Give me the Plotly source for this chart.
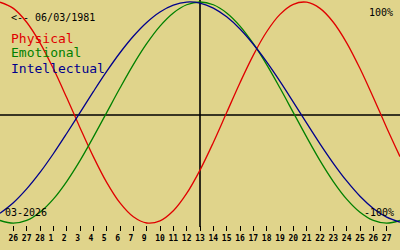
import plotly.graph_objects as go

# ---- data ----
day_offsets = list(range(-15, 16))
physical = [0.998, 0.942, 0.817, 0.631, 0.398, 0.136, -0.136, -0.398, -0.631, -0.817,
            -0.942, -0.998, -0.979, -0.888, -0.731, -0.520, -0.270, 0.000, 0.270, 0.520,
            0.731, 0.888, 0.979, 0.998, 0.942, 0.817, 0.631, 0.398, 0.136, -0.136, -0.398]
emotional = [-0.975, -1.000, -0.975, -0.901, -0.782, -0.623, -0.434, -0.222, 0.000, 0.222,
             0.434, 0.623, 0.782, 0.901, 0.975, 1.000, 0.975, 0.901, 0.782, 0.623,
             0.434, 0.222, 0.000, -0.222, -0.434, -0.623, -0.782, -0.901, -0.975, -1.000, -0.975]
intellectual = [-0.910, -0.815, -0.690, -0.541, -0.372, -0.189, 0.000, 0.189, 0.372, 0.541,
                0.690, 0.815, 0.910, 0.972, 0.999, 0.990, 0.945, 0.866, 0.756, 0.618,
                0.458, 0.282, 0.095, -0.095, -0.282, -0.458, -0.618, -0.756, -0.866, -0.945, -0.990]
tick_days = list(range(-14, 15))
tick_labels = ["26", "27", "28", "1", "2", "3", "4", "5", "6", "7", "9", "10", "11", "12", "13",
               "14", "15", "16", "17", "18", "19", "20", "21", "22", "23", "24", "25", "26", "27"]
series_names = ["Physical", "Emotional", "Intellectual"]
birth_label = "<-- 06/03/1981"
month_label = "03-2026"

BG = "#E0D48B"
RED = "#E00000"
GREEN = "#008000"
BLUE = "#00008C"
MONO = "DejaVu Sans Mono"

fig = go.Figure()
for vals, col in [(physical, RED), (emotional, GREEN), (intellectual, BLUE)]:
    fig.add_trace(go.Scatter(x=day_offsets, y=vals, mode="lines",
                             line=dict(color=col, width=1.3, shape="spline", smoothing=1),
                             hoverinfo="skip", showlegend=False))

# centre vertical line (today) and horizontal zero line
fig.add_shape(type="line", xref="x", yref="paper", x0=0, x1=0, y0=1, y1=1 - 227 / 250,
              line=dict(color="black", width=1.6), layer="below")
fig.add_shape(type="line", xref="paper", yref="paper", x0=0, x1=1, y0=1 - 115 / 250, y1=1 - 115 / 250,
              line=dict(color="black", width=1.5), layer="below")

labels = ["<b>%s</b>" % (t if len(t) == 2 else t + "\u00a0") for t in tick_labels]

def ann(text, x, y, xanchor, size, color):
    fig.add_annotation(text=text, x=x / 400, y=1 - y / 250, xref="paper", yref="paper",
                       xanchor=xanchor, yanchor="middle", showarrow=False,
                       font=dict(family=MONO, size=size, color=color), borderpad=0)

ann(birth_label, 10, 17, "left", 10, "black")
ann(series_names[0], 10, 38, "left", 13, RED)
ann(series_names[1], 10, 53, "left", 13, GREEN)
ann(series_names[2], 10, 68, "left", 13, BLUE)
ann("100%", 394, 12.5, "right", 10, "black")
ann("-100%", 395, 212, "right", 10, "black")
ann(month_label, 4, 212, "left", 10, "black")

ymax = 1 + 2 / 111.5
ymin = 1 - 250 / 111.5
fig.update_layout(
    width=400, height=250, margin=dict(l=0, r=0, t=0, b=0),
    paper_bgcolor=BG, plot_bgcolor=BG, hovermode=False,
    xaxis=dict(range=[-15, 15], showgrid=False, zeroline=False, showline=False,
               tickmode="array", tickvals=tick_days, ticktext=labels,
               ticks="outside", ticklen=5, tickwidth=1, tickcolor="black",
               anchor="free", position=1 - 225 / 250,
               tickfont=dict(family=MONO, size=8, color="black")),
    yaxis=dict(range=[ymin, ymax], visible=False, showgrid=False, zeroline=False),
)
fig.write_html("out.html")
